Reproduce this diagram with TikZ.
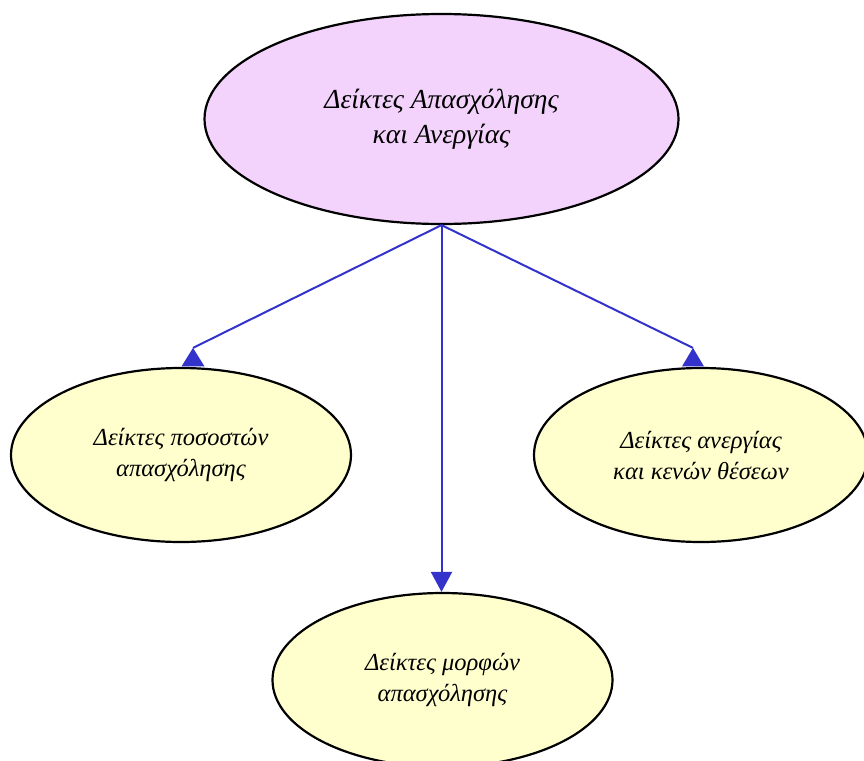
\documentclass[tikz,border=0pt]{standalone}
\usepackage{fontspec}
\setmainfont{Liberation Serif}
\usetikzlibrary{shapes.geometric,arrows.meta,calc}
\definecolor{topfill}{RGB}{243,211,252}
\definecolor{leaffill}{RGB}{255,255,206}
\definecolor{arrowblue}{RGB}{51,51,204}
\tikzset{
  topnode/.style={ellipse,draw=black,line width=2.2pt,fill=topfill,minimum width=474pt,minimum height=210pt,inner sep=0pt,align=center,font=\fontsize{27.5}{35}\selectfont\itshape},
  leafnode/.style={ellipse,draw=black,line width=2.2pt,fill=leaffill,minimum width=340pt,minimum height=174pt,inner sep=0pt,align=center,font=\fontsize{24.5}{31}\selectfont\itshape},
  link/.style={draw=arrowblue,line width=2pt},
  downlink/.style={link,-{Triangle[width=21pt,length=20pt]}},
  uphead/.style={fill=arrowblue}
}
\begin{document}
\begin{tikzpicture}[x=1pt,y=-1pt]
\useasboundingbox (0,0) rectangle (864,760);
\fill[white] (0,0) rectangle (864,760);
\node[topnode] (top) at (441.5,119) {Δείκτες Απασχόλησης\\και Ανεργίας};
\node[leafnode] (left) at (181,455) {Δείκτες ποσοστών\\απασχόλησης};
\node[leafnode,minimum width=334pt] (right) at (701,455) {Δείκτες ανεργίας\\και κενών θέσεων};
\node[leafnode] (bottom) at (442.5,680) {Δείκτες μορφών\\απασχόλησης};
% connector end points (apex of the arrowheads)
\coordinate (la) at ($(left.north)+(12,-19)$);
\coordinate (ra) at ($(right.north)+(-8,-19)$);
\draw[link] (top.south) -- (la);
\fill[uphead] (la) -- ++(-11.5,18.5) -- ++(23,0) -- cycle;
\draw[link] (top.south) -- (ra);
\fill[uphead] (ra) -- ++(-11,18.5) -- ++(22,0) -- cycle;
\draw[downlink] (top.south) -- (top.south |- bottom.north);
\end{tikzpicture}
\end{document}
